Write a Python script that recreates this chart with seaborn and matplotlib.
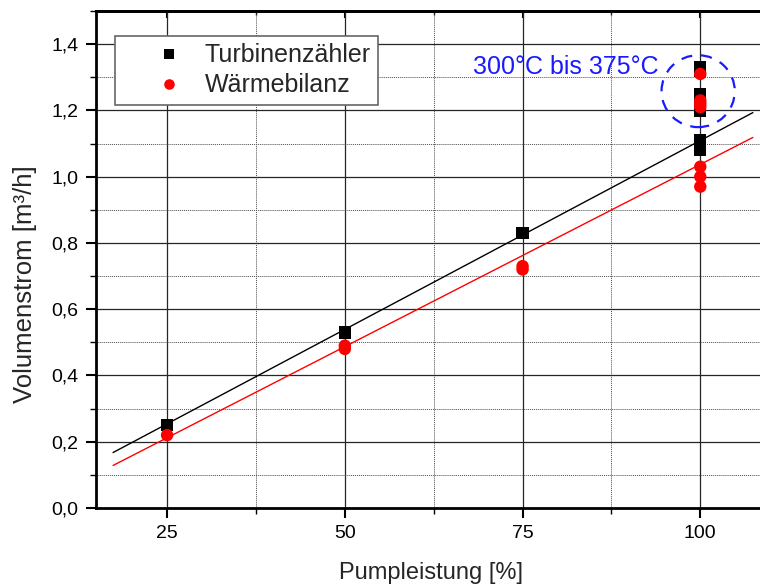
import numpy as np
import pandas as pd
import matplotlib
matplotlib.use("Agg")
import matplotlib.pyplot as plt
from matplotlib.patches import Ellipse
from matplotlib.ticker import FuncFormatter, MultipleLocator, FixedLocator
import seaborn as sns

# ---- data ----
turb_x = [25, 50, 75, 100, 100, 100, 100, 100, 100, 100, 100, 100]
turb_y = [0.25, 0.53, 0.83, 1.33, 1.32, 1.25, 1.23, 1.21, 1.20, 1.11, 1.09, 1.08]
waerme_x = [25, 50, 50, 75, 75, 100, 100, 100, 100, 100, 100, 100]
waerme_y = [0.22, 0.49, 0.48, 0.73, 0.72, 1.31, 1.23, 1.22, 1.21, 1.03, 1.00, 0.97]
series_names = ["Turbinenzähler", "Wärmebilanz"]
# linear fits (slope, intercept)
fit_turb = (0.0114, -0.031)
fit_waerme = (0.0110, -0.063)
fit_range = (17.4, 107.4)
x_ticks = [25, 50, 75, 100]
annot_text = "300°C bis 375°C"

df = pd.DataFrame({
    "x": turb_x + waerme_x,
    "y": turb_y + waerme_y,
    "Serie": [series_names[0]] * len(turb_x) + [series_names[1]] * len(waerme_x),
})

sns.set_theme(style="white")
plt.rcParams["font.family"] = ["Liberation Sans", "DejaVu Sans"]

fig = plt.figure(figsize=(7.6, 5.85), dpi=100)
ax = fig.add_axes([96 / 760, 77 / 585, 1 - 96 / 760, 497 / 585])

ax.set_xlim(15, 108.4)
ax.set_ylim(0, 1.5)

# grid
ax.xaxis.set_major_locator(FixedLocator(x_ticks))
ax.xaxis.set_minor_locator(MultipleLocator(12.5))
ax.yaxis.set_major_locator(MultipleLocator(0.2))
ax.yaxis.set_minor_locator(MultipleLocator(0.1))
ax.grid(True, which="major", color="0.15", linewidth=0.9, linestyle="-")
ax.grid(True, which="minor", color="0.3", linewidth=0.7, linestyle=(0, (1, 1)))
ax.set_axisbelow(True)

# fit lines
xs = np.array(fit_range)
ax.plot(xs, fit_turb[0] * xs + fit_turb[1], color="black", linewidth=1.0, zorder=2)
ax.plot(xs, fit_waerme[0] * xs + fit_waerme[1], color="red", linewidth=1.0, zorder=2)

sns.scatterplot(
    data=df, x="x", y="y", hue="Serie", style="Serie", ax=ax,
    palette={series_names[0]: "black", series_names[1]: "red"},
    markers={series_names[0]: "s", series_names[1]: "o"},
    s=80, linewidth=0, zorder=3,
)

# annotation
ell = Ellipse((99.7, 1.258), width=10.3, height=0.217, fill=False,
              edgecolor="#1a1aff", linestyle=(0, (5, 4)), linewidth=1.6, zorder=4)
ax.add_patch(ell)
ax.text(68.0, 1.331, annot_text, color="#1a1aff", fontsize=18, va="center", ha="left")

# formatting
ax.yaxis.set_major_formatter(FuncFormatter(lambda v, p: f"{v:.1f}".replace(".", ",")))
ax.set_xlabel("Pumpleistung [%]", fontsize=17)
ax.set_ylabel("Volumenstrom [m³/h]", fontsize=18.5)
ax.xaxis.set_label_coords(0.504, -0.108)
ax.yaxis.set_label_coords(-0.089, 0.45)
ax.tick_params(axis="both", which="major", labelsize=14, direction="out", length=7,
               width=1.5, color="black", left=True, bottom=True, labelcolor="black",
               pad=5.5)
ax.tick_params(axis="both", which="minor", direction="out", length=4, width=1.0,
               color="black", left=True, bottom=True)
for side in ["left", "bottom", "top"]:
    ax.spines[side].set_visible(True)
    ax.spines[side].set_color("black")
    ax.spines[side].set_linewidth(2.0)
ax.spines["right"].set_visible(False)

# inward ticks on the top spine
sec = ax.secondary_xaxis("top")
sec.xaxis.set_major_locator(FixedLocator(x_ticks))
sec.xaxis.set_minor_locator(MultipleLocator(12.5))
sec.tick_params(axis="x", which="major", direction="in", length=5, width=1.5,
                color="black", labeltop=False, top=True)
sec.tick_params(axis="x", which="minor", direction="in", length=3, width=1.0,
                color="black", top=True)
sec.spines["top"].set_linewidth(2.0)
sec.spines["top"].set_color("black")

leg = ax.legend(loc="upper left", bbox_to_anchor=(0.0286, 0.9497), borderaxespad=0,
                fontsize=18, frameon=True, fancybox=False, edgecolor="0.4",
                framealpha=1, handlelength=3.7, handletextpad=-0.42, borderpad=0.3,
                labelspacing=0.24, markerscale=0.85)
leg.get_frame().set_linewidth(1.2)

fig.savefig("out.png", dpi=100)
